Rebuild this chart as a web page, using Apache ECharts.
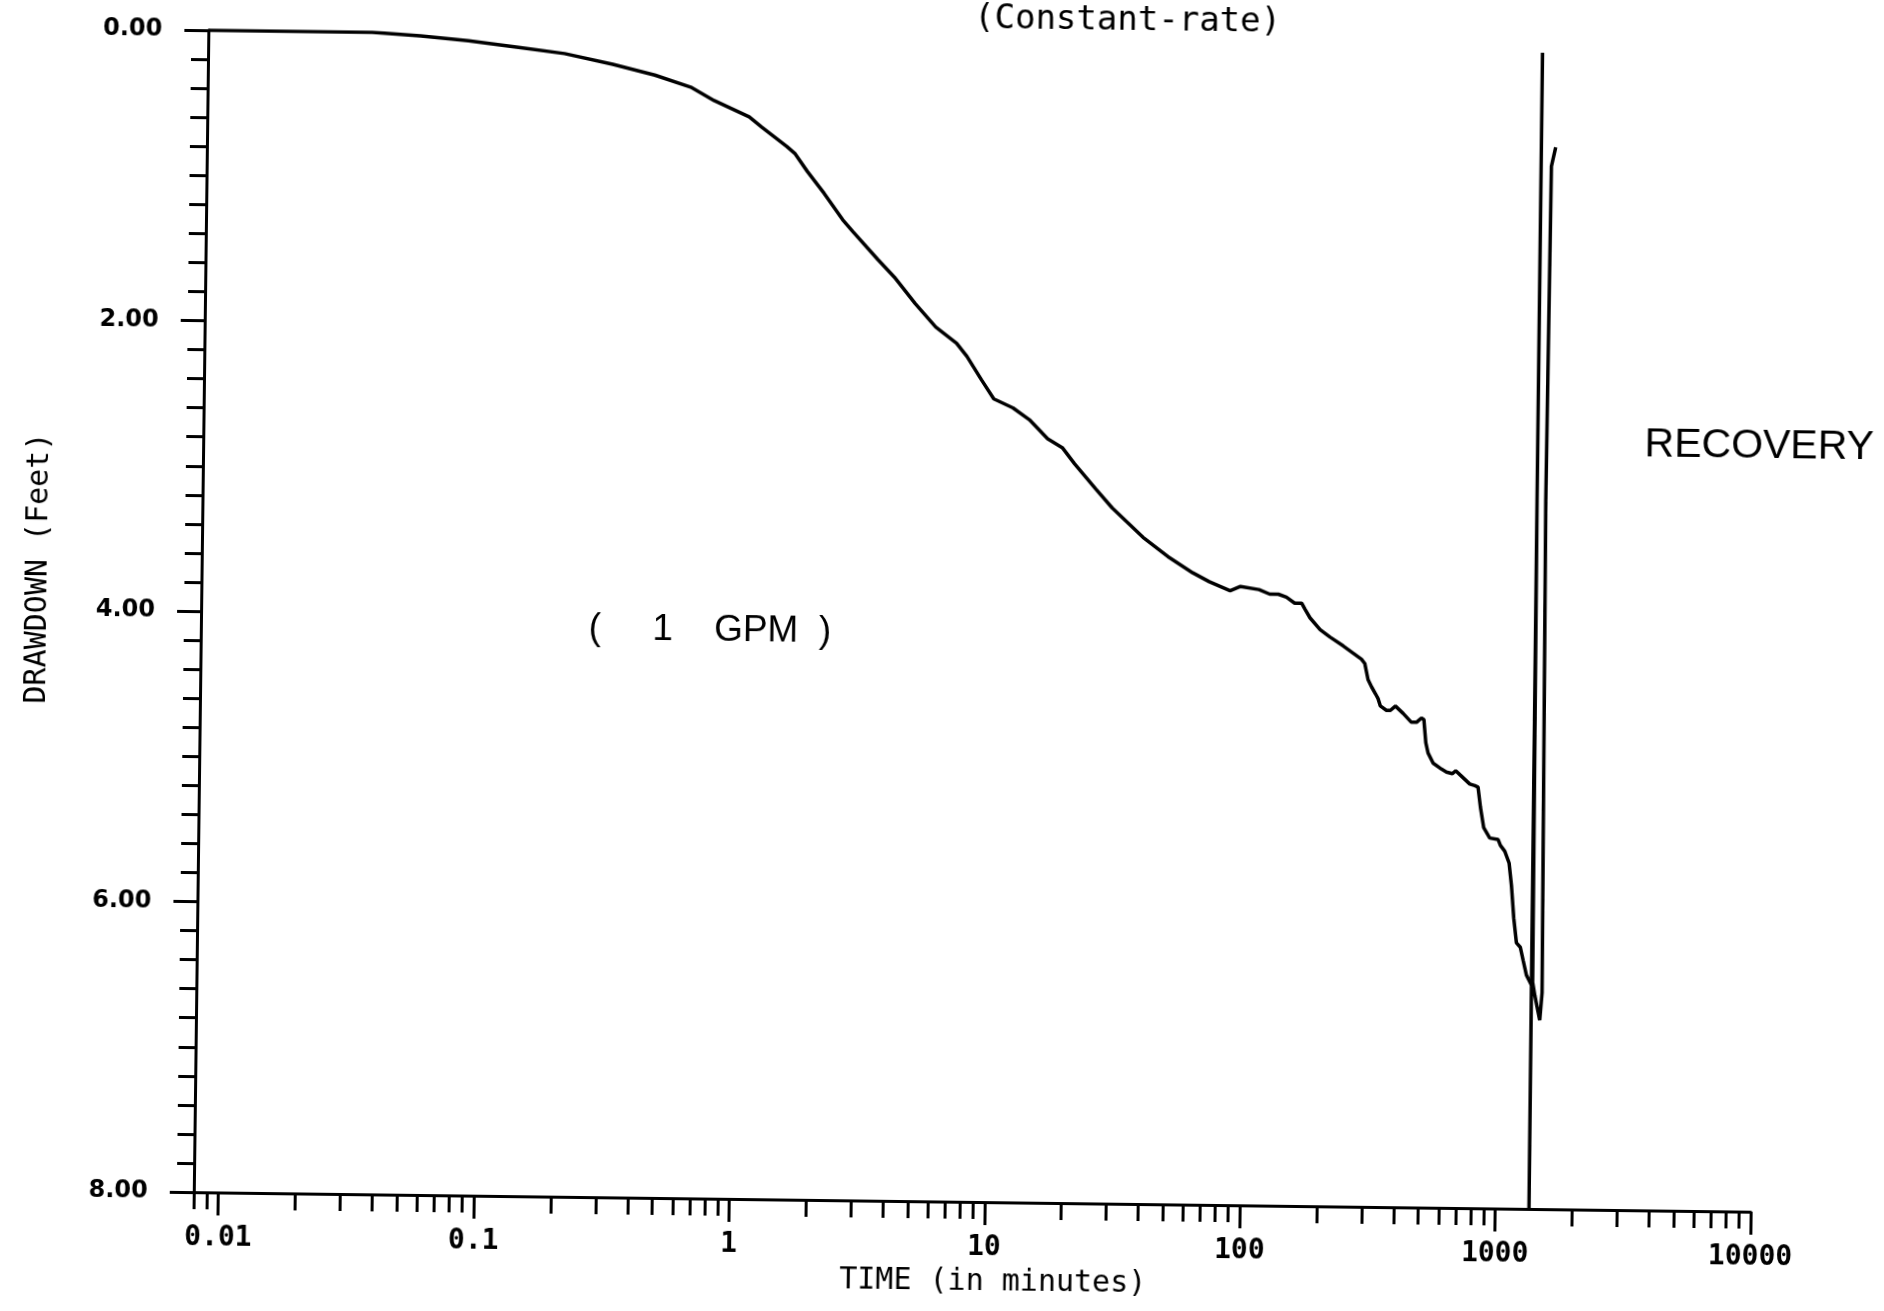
<!DOCTYPE html>
<html>
<head>
<meta charset="utf-8">
<title>Drawdown vs time - constant-rate test (1 GPM)</title>
<script src="https://cdn.jsdelivr.net/npm/echarts@6/dist/echarts.min.js"></script>
<style>
  html, body { margin: 0; padding: 0; background: #fff; overflow: hidden; }
  /* the scanned plot sits slightly skewed on the page */
  #chart { width: 1884px; height: 1311px; background: #fff;
           transform-origin: 981.5px 622px; transform: rotate(0.72deg); }
</style>
</head>
<body>
<div id="chart"></div>
<script>
// pumping phase: time (minutes) / drawdown (feet)
const pumpTime = [
  0.008, 0.0132, 0.0228, 0.0351, 0.0542, 0.0836, 0.129, 0.199, 0.308, 0.450,
  0.623, 0.770, 1.06, 1.19, 1.49, 1.61, 1.80, 2.10, 2.49, 2.73,
  3.43, 3.99, 4.83, 5.83, 7.05, 7.75, 8.86, 9.92, 11.8, 13.7,
  16.2, 18.5, 20.7, 25.1, 29.2, 38.7, 48.5, 60.8, 70.7, 85.4,
  93.7, 110.8, 122, 132, 142, 153, 163, 168, 176, 193,
  211, 238, 261, 281, 290, 299, 309, 321, 328, 335,
  354, 367, 384, 412, 444, 465, 486, 497, 507, 518,
  543, 586, 613, 647, 666, 695, 757, 792, 816, 836,
  863, 912, 984, 1005, 1046, 1089, 1116, 1143, 1174, 1217,
  1250, 1289, 1351
];
const pumpDrawdown = [
  0.00, 0.00, 0.00, 0.00, 0.02, 0.05, 0.09, 0.13, 0.20, 0.27,
  0.35, 0.44, 0.55, 0.62, 0.75, 0.80, 0.92, 1.07, 1.25, 1.33,
  1.52, 1.64, 1.82, 1.98, 2.09, 2.18, 2.34, 2.47, 2.53, 2.61,
  2.74, 2.80, 2.91, 3.08, 3.21, 3.41, 3.54, 3.65, 3.71, 3.77,
  3.74, 3.76, 3.79, 3.79, 3.81, 3.85, 3.85, 3.89, 3.95, 4.03,
  4.08, 4.14, 4.19, 4.23, 4.26, 4.37, 4.42, 4.47, 4.50, 4.55,
  4.58, 4.58, 4.55, 4.60, 4.66, 4.66, 4.63, 4.64, 4.80, 4.87,
  4.94, 4.98, 5.00, 5.01, 4.99, 5.02, 5.08, 5.09, 5.10, 5.24,
  5.38, 5.45, 5.46, 5.50, 5.54, 5.62, 5.78, 6.00, 6.17, 6.20,
  6.29, 6.39, 6.46
];

// recovery trace as the plotter drew it
const recoveryTime = [1351, 1355, 1351, 1345, 1343, 1345, 1365, 1394, 1461, 1488, 1455, 1474, 1529];
const recoveryDrawdown = [6.46, 8.00, 6.46, 3.12, 0.04, 3.12, 6.44, 6.53, 6.70, 6.51, 3.12, 0.82, 0.69];

// axis ticks
const majorTicks = [0.01, 0.1, 1, 10, 100, 1000, 10000];
const minorTicks = [0.008, 0.009];
majorTicks.slice(0, -1).forEach(dec => {
    for (let m = 2; m <= 9; m++) minorTicks.push(+(dec * m).toPrecision(3));
});

const black = '#000';
const chart = echarts.init(document.getElementById('chart'), null, { renderer: 'canvas' });

const option = {
    animation: false,
    backgroundColor: '#fff',
    grid: { left: 201, top: 40, width: 1557, height: 1162 },
    xAxis: [{
        type: 'log',
        logBase: 10,
        min: 0.008,
        max: 10000,
        position: 'bottom',
        name: 'TIME (in minutes)',
        nameLocation: 'middle',
        nameGap: 62,
        nameTextStyle: { fontFamily: 'DejaVu Sans Mono', fontSize: 30, color: black, padding: [0, 0, 0, 43] },
        axisLine: { onZero: false, lineStyle: { color: black, width: 3 } },
        axisTick: { customValues: majorTicks, length: 23, lineStyle: { color: black, width: 3 } },
        axisLabel: {
            customValues: majorTicks,
            formatter: v => String(v),
            margin: 32,
            fontFamily: 'DejaVu Sans Mono',
            fontWeight: 'bold',
            fontSize: 28,
            color: black
        },
        splitLine: { show: false }
    }, {
        // minor log ticks (2..9 of each decade)
        type: 'log',
        logBase: 10,
        min: 0.008,
        max: 10000,
        position: 'bottom',
        axisLine: { show: false, onZero: false },
        axisTick: { customValues: minorTicks, length: 17, lineStyle: { color: black, width: 3 } },
        axisLabel: { show: false },
        splitLine: { show: false }
    }],
    yAxis: {
        type: 'value',
        inverse: true,
        min: 0,
        max: 8,
        interval: 2,
        name: 'DRAWDOWN (Feet)',
        nameLocation: 'middle',
        nameGap: 148,
        nameTextStyle: { fontFamily: 'DejaVu Sans Mono', fontSize: 30, color: black, padding: [0, 0, 0, 82] },
        axisLine: { show: true, onZero: false, lineStyle: { color: black, width: 3 } },
        axisTick: { show: true, length: 24, lineStyle: { color: black, width: 3 } },
        minorTick: { show: true, splitNumber: 10, length: 17, lineStyle: { color: black, width: 3 } },
        axisLabel: {
            formatter: v => v.toFixed(2),
            margin: 46,
            fontFamily: 'DejaVu Sans',
            fontWeight: 'bold',
            fontSize: 24,
            color: black
        },
        splitLine: { show: false },
        minorSplitLine: { show: false }
    },
    graphic: [{
        type: 'text',
        x: 1120, y: 19,
        style: { text: '(Constant-rate)', align: 'center', verticalAlign: 'middle',
                 font: '34px "DejaVu Sans Mono"', fill: black }
    }, {
        type: 'text',
        x: 710, y: 634,
        style: { text: '(     1    GPM  )', align: 'center', verticalAlign: 'middle',
                 font: '37px "Liberation Sans"', fill: black }
    }, {
        type: 'text',
        x: 1757, y: 437,
        style: { text: 'RECOVERY', align: 'center', verticalAlign: 'middle',
                 font: '41px "Liberation Sans"', fill: black }
    }],
    series: [{
        name: 'Pumping',
        type: 'line',
        xAxisIndex: 0,
        yAxisIndex: 0,
        data: pumpTime.map((t, i) => [t, pumpDrawdown[i]]),
        symbol: 'none',
        lineStyle: { color: black, width: 3.5 }
    }, {
        name: 'Recovery',
        type: 'line',
        xAxisIndex: 0,
        yAxisIndex: 0,
        data: recoveryTime.map((t, i) => [t, recoveryDrawdown[i]]),
        symbol: 'none',
        lineStyle: { color: black, width: 3.5 }
    }]
};

chart.setOption(option);
</script>
</body>
</html>
